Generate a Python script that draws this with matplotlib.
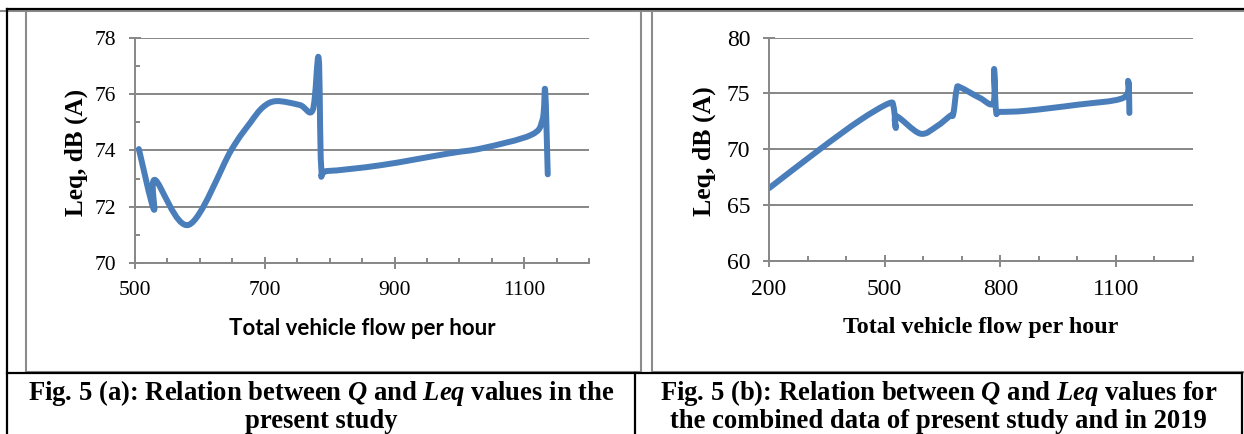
import numpy as np
import matplotlib
matplotlib.use("Agg")
import matplotlib.pyplot as plt
from matplotlib.path import Path
from matplotlib.patches import PathPatch

plt.rcParams["mathtext.fontset"] = "custom"
plt.rcParams["mathtext.bfit"] = "Liberation Serif:bold:italic"
plt.rcParams["mathtext.rm"] = "Liberation Serif:bold"

# Fig. 5 (a): present study
flow_a = [506, 529, 531, 583, 648, 677, 697, 718, 754, 774, 783,
          787, 797, 880, 985, 1035, 1110, 1128, 1132, 1136]
leq_a = [74.05, 71.9, 72.95, 71.35, 74.0, 74.97, 75.54, 75.76,
         75.62, 75.45, 77.3, 73.4, 73.27, 73.48, 73.9, 74.08, 74.55, 75.1,
         76.15, 73.15]

# Fig. 5 (b): present study combined with 2019 data
flow_b = [200, 332, 436, 510, 523, 529, 531, 592, 635, 670, 678, 687, 696,
          747, 782, 784, 789, 800, 868, 998, 1119, 1132, 1135]
leq_b = [66.5, 70.0, 72.6, 74.1, 73.8, 71.9, 72.95, 71.4, 72.05, 73.0, 73.15,
         75.4, 75.55, 74.6, 74.15, 77.2, 73.45, 73.35, 73.45, 73.98, 74.6,
         76.1, 73.25]

xticks_a = [500, 700, 900, 1100]
xticks_b = [200, 500, 800, 1100]
xlabel = "Total vehicle flow per hour"
ylabel = "Leq, dB (A)"
caption_a = [r"Fig. 5 (a): Relation between $\mathbfit{Q}$ and $\mathbfit{Leq}$ values in the",
             "present study"]
caption_b = [r"Fig. 5 (b): Relation between $\mathbfit{Q}$ and $\mathbfit{Leq}$ values for",
             "the combined data of present study and in 2019"]

LINE = "#4a7ebb"
GRID = "#878787"
SERIF = "Liberation Serif"


def smooth_path(xs, ys):
    # smoothed scatter line like the spreadsheet one: bezier through the points
    pts = np.column_stack([xs, ys]).astype(float)
    padded = np.vstack([pts[0], pts, pts[-1]])
    verts = [pts[0]]
    codes = [Path.MOVETO]
    for i in range(len(pts) - 1):
        p0, p1, p2, p3 = padded[i], padded[i + 1], padded[i + 2], padded[i + 3]
        verts += [p1 + (p2 - p0) / 6, p2 - (p3 - p1) / 6, p2]
        codes += [Path.CURVE4] * 3
    return Path(verts, codes)


def style_axes(ax, xlim, ylim, xmaj, xstep, ystep, yminor, fs):
    ax.set_facecolor("none")
    ax.set_xlim(*xlim)
    ax.set_ylim(*ylim)
    for s in ["top", "right"]:
        ax.spines[s].set_visible(False)
    for s in ["left", "bottom"]:
        ax.spines[s].set_color(GRID)
        ax.spines[s].set_linewidth(1.4)
    ax.set_xticks(xmaj)
    ax.set_xticks(np.arange(xlim[0], xlim[1] + 1, xstep), minor=True)
    ax.set_yticks(np.arange(ylim[0], ylim[1] + 0.1, ystep))
    if yminor:
        ax.set_yticks(np.arange(ylim[0] + 1, ylim[1], 2), minor=True)
    ax.tick_params(which="major", direction="inout", length=8, width=1.4,
                   color=GRID, labelsize=fs, pad=9.5)
    ax.tick_params(which="minor", direction="in", length=3.6, width=1.4,
                   color=GRID)
    ax.yaxis.grid(True, color=GRID, linewidth=1.4)
    ax.set_axisbelow(True)
    for lab in ax.get_xticklabels() + ax.get_yticklabels():
        lab.set_fontfamily(SERIF)


fig = plt.figure(figsize=(12.44, 4.34), dpi=100)

# page frame (table borders around the two figures), in pixel units
frame = fig.add_axes([0, 0, 1, 1])
frame.set_xlim(0, 1244)
frame.set_ylim(434, 0)
frame.axis("off")
box = dict(color="#8c8c8c", linewidth=1.5)
frame.plot([26, 26, 640.5, 640.5], [10, 371.5, 371.5, 10], **box)
frame.plot([652, 652, 1250], [10, 371.5, 371.5], **box)
frame.plot([0, 1250], [10.5, 10.5], **box)
blk = dict(color="black", linewidth=1.6)
frame.plot([7, 1243], [9, 9], **blk)
frame.plot([7, 7], [9, 434], **blk)
frame.plot([7, 1242], [373.3, 373.3], **blk)
frame.plot([635, 635], [373.3, 434], **blk)
frame.plot([1241.5, 1241.5], [373.3, 434], **blk)

cap_kw = dict(ha="center", va="baseline", fontsize=19.2, fontweight="bold",
              family=SERIF)
frame.text(321, 399.5, caption_a[0], **cap_kw)
frame.text(321, 427.5, caption_a[1], **cap_kw)
frame.text(938.5, 399.5, caption_b[0], **cap_kw)
frame.text(938.5, 427.5, caption_b[1], **cap_kw)

# (a)
ax_a = fig.add_axes([0.1085, 0.3947, 0.3652, 0.5171])
style_axes(ax_a, (500, 1200), (70, 78), xticks_a, 50, 2, True, 15.5)
ax_a.add_patch(PathPatch(smooth_path(flow_a, leq_a), fill=False, edgecolor=LINE,
                         linewidth=4.3, capstyle="round", joinstyle="round"))
ax_a.set_ylabel(ylabel, fontsize=18.2, fontweight="bold", family=SERIF)
ax_a.yaxis.set_label_coords(-0.1035, 0.491)
ax_a.set_xlabel(xlabel, fontsize=16, fontweight="bold", family="Lato")
ax_a.xaxis.set_label_coords(0.5, -0.246)

# (b)
ax_b = fig.add_axes([0.6182, 0.3993, 0.3408, 0.5138])
style_axes(ax_b, (200, 1300), (60, 80), xticks_b, 100, 5, False, 17)
ax_b.add_patch(PathPatch(smooth_path(flow_b, leq_b), fill=False, edgecolor=LINE,
                         linewidth=4.3, capstyle="round", joinstyle="round"))
ax_b.set_ylabel(ylabel, fontsize=18.5, fontweight="bold", family=SERIF)
ax_b.yaxis.set_label_coords(-0.126, 0.492)
ax_b.set_xlabel(xlabel, fontsize=17.3, fontweight="bold", family=SERIF)
ax_b.xaxis.set_label_coords(0.4988, -0.252)

fig.savefig("out.png", dpi=100)
